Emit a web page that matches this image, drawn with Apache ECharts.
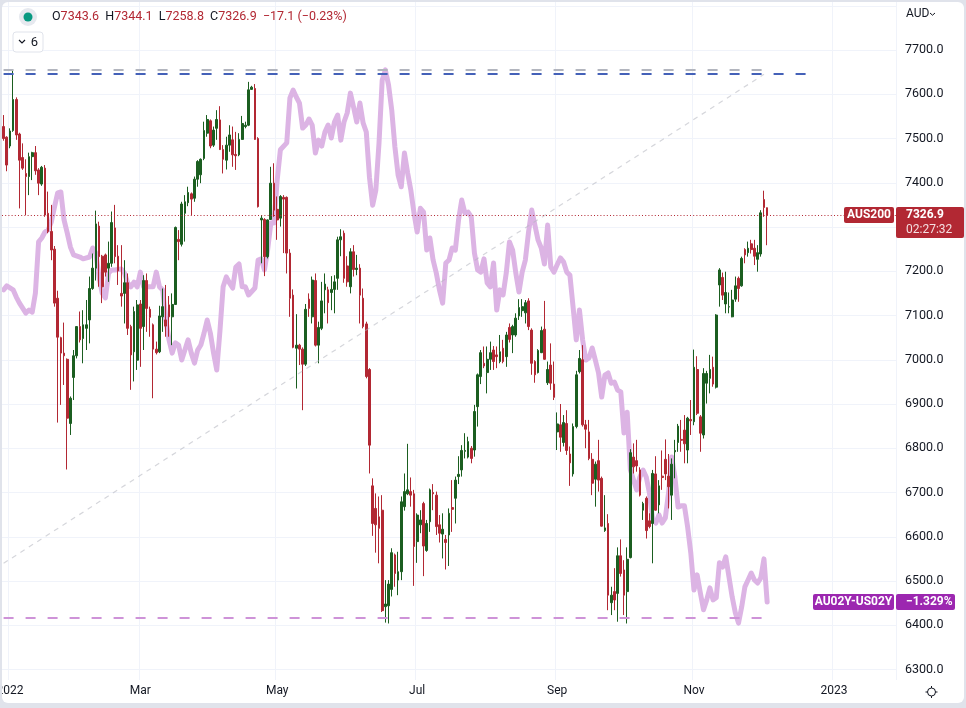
<!DOCTYPE html>
<html><head><meta charset="utf-8">
<script src="https://cdn.jsdelivr.net/npm/echarts/dist/echarts.min.js"></script>
<style>
html,body{margin:0;padding:0;background:#fff;overflow:hidden;width:966px;height:708px;}
#c{position:absolute;left:0;top:0;width:966px;height:708px;}
#frame{position:absolute;left:2px;top:2px;width:962px;height:701px;border-radius:6px;box-shadow:0 0 0 40px #e0e3eb;pointer-events:none;}
</style></head><body>
<div id="c"></div><div id="frame"></div>
<script>
const UP = '#1b5e20', DOWN = '#b22833', PURPLE = '#9c27b0', SPREAD_LINE = '#dcb4e4';
const FONT = 'Roboto, "Liberation Sans", sans-serif';
const TEXT = '#131722';

// x axis: trading days (weekdays) starting here
const startDay = [2021, 11, 30];
const closedDays = ['2022-04-15'];
const slotCount = 281;
const tickMonths = ['2022-01', '2022-03', '2022-05', '2022-07', '2022-09', '2022-11', '2023-01'];
const tickLabels = ['2022', 'Mar', 'May', 'Jul', 'Sep', 'Nov', '2023'];

const symbolName = 'AUS200';
const spreadName = 'AU02Y-US02Y';
const timerText = '02:27:32';

// AUS200 daily candles: [open, close, low, high]
const candles = [
[7527,7500,7495,7553],[7503,7440,7426,7505],[7483,7517,7478,7523],[7518,7588,7515,7655],[7588,7508,7497,7593],
[7510,7451,7342,7513],[7457,7433,7429,7489],[7421,7414,7327,7453],[7414,7459,7372,7468],[7459,7468,7406,7470],
[7468,7427,7418,7483],[7429,7399,7372,7433],[7397,7435,7393,7438],[7433,7327,7323,7440],[7331,7290,7286,7380],
[7290,7248,7225,7350],[7250,7128,7120,7257],[7139,7051,6858,7156],[7050,7015,6898,7052],[7015,7009,6943,7084],
[7001,6868,6752,7003],[6856,6913,6830,6917],[6960,7009,6909,7022],[7009,7075,7003,7076],[7075,7045,7039,7109],
[7048,7079,6992,7112],[7071,7079,7022,7135],[7090,7161,7037,7188],[7161,7207,7158,7240],[7207,7307,7179,7337],
[7302,7233,7165,7312],[7234,7165,7128,7237],[7237,7198,7188,7240],[7207,7218,7176,7267],[7218,7310,7210,7335],
[7298,7233,7218,7350],[7234,7201,7169,7259],[7150,7144,7120,7259],[7150,7174,7082,7225],[7174,7071,7056,7195],
[7075,7011,6932,7079],[7018,7109,6951,7120],[6999,7124,6977,7135],[7126,7071,6984,7135],[7075,7179,7022,7191],
[7179,7116,7063,7195],[7114,7096,7052,7120],[7079,7024,6913,7082],[7024,7016,7012,7041],[7018,7099,7015,7122],
[7097,7120,7063,7161],[7090,7076,7052,7169],[7124,7097,7052,7144],[7097,7125,7033,7150],[7125,7299,7124,7301],
[7272,7267,7225,7293],[7261,7352,7256,7357],[7331,7357,7267,7372],[7355,7378,7347,7391],[7375,7363,7327,7378],
[7365,7408,7357,7414],[7408,7448,7391,7451],[7418,7453,7399,7455],[7455,7518,7451,7538],[7512,7543,7504,7553],
[7540,7483,7478,7543],[7485,7519,7481,7527],[7523,7543,7497,7564],[7542,7475,7474,7573],[7475,7453,7421,7485],
[7451,7485,7430,7504],[7485,7508,7470,7530],[7497,7463,7436,7527],[7464,7461,7429,7515],[7463,7498,7460,7512],
[7498,7534,7497,7551],[7527,7530,7523,7538],[7530,7610,7528,7628],[7611,7616,7610,7619],[7613,7498,7497,7623],
[7500,7346,7344,7503],[7316,7320,7218,7327],[7317,7233,7189,7320],[7233,7316,7229,7317],[7317,7399,7316,7436],
[7399,7338,7323,7444],[7340,7316,7271,7369],[7320,7369,7301,7372],[7367,7363,7241,7372],[7367,7241,7195,7369],
[7241,7139,7097,7250],[7146,7028,7026,7159],[7026,7033,6935,7103],[7033,7024,6988,7036],[7024,6990,6886,7028],
[6990,7114,6986,7126],[7137,7116,7097,7150],[7097,7180,7082,7188],[7179,7033,7030,7195],[7033,7073,6992,7086],
[7071,7133,7067,7176],[7158,7171,7105,7195],[7158,7129,7082,7165],[7152,7159,7112,7189],[7159,7176,7105,7191],
[7184,7271,7158,7278],[7271,7278,7234,7295],[7286,7184,7174,7292],[7212,7176,7165,7234],[7165,7244,7150,7252],
[7244,7204,7188,7259],[7204,7207,7191,7237],[7207,7146,7082,7216],[7139,7075,7071,7161],[7081,6962,6958,7086],
[6978,6807,6743,6981],[6715,6630,6602,6732],[6664,6627,6564,6698],[6645,6619,6540,6691],[6660,6433,6430,6694],
[6442,6448,6406,6502],[6444,6493,6404,6502],[6481,6564,6465,6574],[6559,6517,6487,6562],[6502,6521,6468,6566],
[6521,6679,6502,6691],[6668,6702,6659,6743],[6697,6706,6694,6810],[6702,6694,6668,6734],[6697,6578,6489,6706],
[6589,6649,6541,6653],[6627,6638,6608,6660],[6675,6579,6511,6679],[6569,6630,6566,6638],[6634,6706,6611,6709],
[6700,6697,6660,6719],[6694,6623,6604,6702],[6627,6608,6587,6649],[6606,6617,6551,6653],[6594,6587,6526,6604],
[6604,6653,6534,6664],[6666,6662,6611,6728],[6687,6728,6630,6736],[6736,6741,6719,6782],[6751,6795,6736,6807],
[6793,6795,6777,6834],[6780,6815,6777,6826],[6800,6777,6766,6805],[6796,6883,6781,6898],[6894,6966,6849,6969],
[6962,7016,6945,7022],[6992,6986,6981,7030],[6971,7001,6924,7030],[7001,7016,6977,7041],[7022,6996,6977,7031],
[7011,7007,6981,7030],[6996,7018,6992,7056],[7026,6996,6992,7045],[7007,7056,6984,7063],[7073,7046,7039,7082],
[7056,7075,7015,7079],[7056,7094,7052,7105],[7099,7118,7090,7137],[7111,7120,7097,7137],[7106,7129,7082,7135],
[7133,7075,7067,7139],[7067,6992,6966,7071],[6996,6966,6948,6999],[6971,7021,6969,7024],[7016,7066,7015,7075],
[7069,7001,7000,7133],[6948,6978,6943,6996],[6988,6947,6932,7037],[6945,6915,6909,6996],[6837,6855,6796,6881],
[6853,6825,6792,6900],[6813,6858,6804,6875],[6856,6795,6785,6886],[6787,6767,6715,6804],[6742,6849,6736,6856],
[6849,6966,6845,6975],[6973,7003,6969,7022],[7000,6853,6849,7033],[6853,6843,6800,6864],[6837,6777,6773,6864],
[6775,6721,6694,6789],[6730,6764,6668,6770],[6772,6728,6702,6819],[6732,6624,6623,6736],[6614,6620,6611,6694],
[6630,6468,6434,6651],[6451,6468,6423,6487],[6476,6457,6434,6529],[6472,6557,6408,6576],[6557,6517,6510,6594],
[6525,6468,6423,6547],[6476,6549,6404,6576],[6553,6790,6551,6798],[6780,6758,6743,6811],[6772,6760,6747,6819],
[6751,6694,6691,6757],[6660,6675,6638,6679],[6687,6614,6596,6691],[6636,6623,6619,6653],[6630,6743,6540,6751],
[6742,6660,6659,6782],[6672,6715,6653,6728],[6737,6734,6706,6795],[6775,6742,6728,6820],[6737,6713,6664,6787],
[6694,6764,6638,6777],[6792,6795,6732,6819],[6813,6850,6792,6855],[6820,6818,6792,6864],[6841,6810,6766,6875],
[6796,6868,6766,6871],[6865,6862,6830,6909],[6860,6983,6852,7023],[6978,6879,6875,7008],[6871,6834,6792,6875],
[6830,6969,6822,6981],[6947,6969,6901,6975],[6958,6978,6924,7011],[6983,6945,6939,7007],[6938,7101,6935,7103],
[7169,7203,7120,7207],[7186,7146,7135,7197],[7126,7152,7105,7199],[7119,7120,7105,7152],[7097,7135,7096,7158],
[7137,7167,7131,7188],[7184,7161,7131,7188],[7167,7229,7165,7233],[7249,7237,7218,7252],[7242,7252,7233,7267],
[7262,7249,7240,7271],[7252,7234,7214,7271],[7227,7242,7199,7259],[7239,7332,7233,7338],[7362,7344,7323,7382],
[7343.6,7326.9,7258.8,7344.1]
];

// AU02Y-US02Y spread (%): [trading-day index, value]
const spread = [
[0,-0.293],[1,-0.280],[3,-0.293],[4,-0.317],[5,-0.337],[7,-0.370],[8,-0.360],[9,-0.367],[10,-0.304],[11,-0.134],
[12,-0.121],[13,-0.101],[14,-0.094],[15,-0.068],[16,-0.018],[17,0.029],[18,0.032],[19,-0.061],[20,-0.104],[21,-0.151],
[22,-0.177],[24,-0.184],[25,-0.190],[27,-0.184],[28,-0.154],[29,-0.171],[30,-0.250],[31,-0.304],[32,-0.320],[33,-0.237],
[34,-0.227],[35,-0.227],[37,-0.224],[38,-0.237],[39,-0.270],[40,-0.283],[41,-0.267],[42,-0.283],[43,-0.234],[44,-0.283],
[45,-0.283],[47,-0.283],[48,-0.234],[49,-0.283],[50,-0.293],[51,-0.393],[52,-0.459],[53,-0.503],[54,-0.469],[55,-0.476],
[56,-0.526],[58,-0.459],[59,-0.503],[60,-0.536],[61,-0.493],[62,-0.476],[63,-0.437],[64,-0.393],[65,-0.437],[66,-0.503],
[67,-0.559],[68,-0.430],[69,-0.283],[70,-0.250],[71,-0.270],[72,-0.287],[73,-0.217],[74,-0.207],[75,-0.283],[76,-0.283],
[77,-0.310],[79,-0.287],[80,-0.194],[81,-0.190],[82,-0.227],[83,-0.160],[84,-0.071],[85,-0.071],[86,0.072],[87,0.172],
[89,0.195],[90,0.344],[91,0.370],[92,0.347],[93,0.327],[94,0.244],[95,0.254],[96,0.274],[97,0.254],[98,0.161],
[99,0.204],[100,0.184],[101,0.231],[102,0.254],[103,0.211],[104,0.264],[105,0.287],[106,0.204],[107,0.264],[108,0.294],
[109,0.360],[110,0.314],[111,0.264],[112,0.327],[113,0.261],[114,0.231],[115,0.081],[116,-0.012],[117,0.038],[118,0.194],
[119,0.403],[120,0.437],[121,0.387],[122,0.304],[123,0.181],[124,0.088],[125,0.049],[126,0.161],[127,0.095],[128,0.038],
[129,-0.038],[130,-0.101],[131,-0.022],[132,-0.035],[133,-0.161],[134,-0.121],[135,-0.194],[136,-0.237],[137,-0.293],[138,-0.337],
[139,-0.204],[140,-0.194],[141,-0.154],[142,-0.161],[143,-0.061],[144,0.005],[145,-0.038],[146,-0.035],[147,-0.051],[148,-0.171],
[149,-0.227],[150,-0.234],[151,-0.190],[152,-0.270],[153,-0.283],[154,-0.204],[155,-0.360],[156,-0.293],[157,-0.310],[158,-0.237],
[159,-0.134],[160,-0.161],[161,-0.237],[162,-0.300],[163,-0.234],[164,-0.194],[165,-0.101],[166,-0.028],[168,-0.128],[169,-0.154],
[170,-0.207],[171,-0.078],[172,-0.217],[173,-0.234],[174,-0.210],[175,-0.187],[176,-0.200],[177,-0.234],[178,-0.244],[179,-0.350],
[180,-0.459],[181,-0.360],[182,-0.459],[183,-0.526],[184,-0.519],[185,-0.486],[186,-0.526],[187,-0.569],[188,-0.649],[189,-0.576],
[190,-0.569],[191,-0.603],[192,-0.599],[193,-0.626],[194,-0.632],[195,-0.768],[196,-0.699],[197,-0.890],[198,-0.924],[199,-0.957],
[200,-0.914],[201,-0.891],[202,-0.914],[203,-0.967],[204,-1.057],[205,-1.067],[206,-1.040],[207,-1.067],[208,-1.050],[209,-0.967],
[210,-0.848],[211,-0.914],[212,-1.014],[213,-1.010],[214,-1.010],[215,-1.080],[216,-1.166],[217,-1.289],[218,-1.239],[219,-1.299],
[220,-1.355],[221,-1.322],[222,-1.282],[223,-1.322],[224,-1.315],[225,-1.199],[226,-1.213],[227,-1.179],[228,-1.246],[229,-1.312],
[230,-1.365],[231,-1.399],[232,-1.345],[233,-1.279],[234,-1.256],[235,-1.233],[236,-1.256],[237,-1.266],[238,-1.249],[239,-1.186],
[240,-1.329]
];

// drawn horizontal levels and trend line: [startIndex, endIndex, price]
const grayLevel = [0, 239, 7655];
const blueLevel = [0, 253, 7646];
const lowLevel = [0, 239, 6416];
const trendLine = [[0, 6540], [239, 7645]];

// ---- build trading-day categories ----
function buildDays() {
  const out = [];
  const d = new Date(Date.UTC(startDay[0], startDay[1], startDay[2]));
  while (out.length < slotCount) {
    const wd = d.getUTCDay();
    const s = d.toISOString().slice(0, 10);
    if (wd !== 0 && wd !== 6 && closedDays.indexOf(s) < 0) out.push(s);
    d.setUTCDate(d.getUTCDate() + 1);
  }
  return out;
}
const days = buildDays();
const tickAt = {};
tickMonths.forEach((m, k) => {
  const idx = days.findIndex(s => s.slice(0, 7) === m);
  if (idx >= 0) tickAt[idx] = tickLabels[k];
});
const isTick = (idx) => tickAt[idx] !== undefined;

const last = candles[candles.length - 1];
const prevClose = candles[candles.length - 2][1];
const chg = last[1] - prevClose;
const pct = chg / prevClose * 100;
const mm = (v, d) => (v < 0 ? '\u2212' : '') + Math.abs(v).toFixed(d);
const lastSpread = spread[spread.length - 1][1];

const chart = echarts.init(document.getElementById('c'), null, {renderer: 'canvas'});

const lvl = (l, color, width, dash) => [
  {coord: [l[0], l[2]], lineStyle: {color: color, width: width, type: dash}},
  {coord: [l[1], l[2]]}
];

chart.setOption({
  animation: false,
  backgroundColor: '#ffffff',
  grid: [
    {left: 2, right: 70, top: 5.75, height: 708, containLabel: false, outerBoundsMode: 'none'},
    {left: 2, right: 70, top: 0, height: 680, containLabel: false, outerBoundsMode: 'none'}
  ],
  xAxis: [
    {type: 'category', gridIndex: 0, data: days, boundaryGap: true, show: false},
    {type: 'category', gridIndex: 1, data: days, boundaryGap: true,
     axisLine: {show: false}, axisTick: {show: false},
     axisLabel: {interval: (i) => isTick(i), formatter: (v, i) => tickAt[i] || '',
                 color: TEXT, fontSize: 12, fontFamily: FONT, margin: 5, hideOverlap: false},
     splitLine: {show: true, interval: (i) => isTick(i), lineStyle: {color: '#f0f3fa', width: 1}}}
  ],
  yAxis: [
    {type: 'value', gridIndex: 0, position: 'right', min: 6200, max: 7800, interval: 100,
     axisLine: {show: false}, axisTick: {show: false},
     splitLine: {lineStyle: {color: '#f0f3fa', width: 1}},
     axisLabel: {margin: 9, color: TEXT, fontSize: 12.5, fontFamily: FONT,
                 formatter: (v) => (v <= 6200 || v >= 7800) ? '' : v.toFixed(1)}},
    {type: 'value', gridIndex: 0, min: -1.7, max: 0.65, show: false},
    {type: 'value', gridIndex: 1, show: false}
  ],
  series: [
    {type: 'line', name: spreadName, xAxisIndex: 0, yAxisIndex: 1, data: spread,
     showSymbol: false, symbol: 'none', connectNulls: true, z: 2,
     lineStyle: {color: SPREAD_LINE, width: 5, cap: 'round', join: 'round'}},
    {type: 'candlestick', name: symbolName, xAxisIndex: 0, yAxisIndex: 0, data: candles,
     barWidth: 2.2, z: 3,
     itemStyle: {color: UP, color0: DOWN, borderColor: UP, borderColor0: DOWN, borderWidth: 1},
     markLine: {silent: true, symbol: ['none', 'none'], animation: false, label: {show: false},
       data: [
         lvl(grayLevel, '#b2b5be', 2, [10, 12]),
         lvl(blueLevel, '#4461b8', 2, [10, 12]),
         lvl(lowLevel, '#ce93d8', 2, [10, 12]),
         [{coord: trendLine[0], lineStyle: {color: 'rgba(178,181,190,0.55)', width: 1.2, type: [5, 5]}},
          {coord: trendLine[1]}],
         {yAxis: last[1], lineStyle: {color: DOWN, width: 1, type: [1, 2.2]}}
       ]}}
  ]
});

const yP = chart.convertToPixel({yAxisIndex: 0}, last[1]);
const yS = chart.convertToPixel({yAxisIndex: 1}, lastSpread);
const boldW = {fill: '#fff', font: 'bold 12px ' + FONT};

const g = [
  {type: 'circle', shape: {cx: 28, cy: 17, r: 9}, style: {fill: '#e6e9ef'}, z: 100},
  {type: 'circle', shape: {cx: 28, cy: 17, r: 4.5}, style: {fill: '#089981'}, z: 101},
  {type: 'text', x: 52, y: 17, z: 101, style: {
    text: '{k|O}{v|' + last[0].toFixed(1) + '}  {k|H}{v|' + last[3].toFixed(1) + '}  {k|L}{v|' + last[2].toFixed(1) +
          '}  {k|C}{v|' + last[1].toFixed(1) + '}  {v|' + mm(chg, 1) + ' (' + mm(pct, 2) + '%)}',
    verticalAlign: 'middle', font: '12.5px ' + FONT,
    rich: {k: {fill: TEXT, font: '12.5px ' + FONT}, v: {fill: DOWN, font: '12.5px ' + FONT}}}},
  {type: 'rect', shape: {x: 13, y: 32, width: 30, height: 20, r: 3}, style: {fill: '#fff', stroke: '#e0e3eb', lineWidth: 1}, z: 100},
  {type: 'polyline', shape: {points: [[19, 40], [22, 43], [25, 40]]}, style: {stroke: TEXT, lineWidth: 1.2, fill: null}, z: 101},
  {type: 'text', x: 34.5, y: 42.5, z: 101, style: {text: '6', fill: TEXT, font: '13px ' + FONT, align: 'center', verticalAlign: 'middle'}},
  {type: 'text', x: 906, y: 14, z: 101, style: {text: 'AUD', fill: TEXT, font: '12px ' + FONT, verticalAlign: 'middle'}},
  {type: 'polyline', shape: {points: [[930, 13], [932.5, 15.2], [935, 13]]}, style: {stroke: TEXT, lineWidth: 1, fill: null}, z: 101},
  {type: 'circle', shape: {cx: 931.5, cy: 692, r: 4}, style: {fill: 'none', stroke: TEXT, lineWidth: 1}, z: 101},
  {type: 'polyline', shape: {points: [[931.5, 686], [931.5, 688]]}, style: {stroke: TEXT, lineWidth: 1}, z: 101},
  {type: 'polyline', shape: {points: [[931.5, 696], [931.5, 698]]}, style: {stroke: TEXT, lineWidth: 1}, z: 101},
  {type: 'polyline', shape: {points: [[925.5, 692], [927.5, 692]]}, style: {stroke: TEXT, lineWidth: 1}, z: 101},
  {type: 'polyline', shape: {points: [[935.5, 692], [937.5, 692]]}, style: {stroke: TEXT, lineWidth: 1}, z: 101},
  // price labels
  {type: 'rect', shape: {x: 844, y: yP - 8, width: 50, height: 16, r: 2}, style: {fill: DOWN}, z: 102},
  {type: 'text', x: 869, y: yP, z: 103, style: Object.assign({text: symbolName, align: 'center', verticalAlign: 'middle'}, boldW)},
  {type: 'rect', shape: {x: 896, y: yP - 8, width: 68, height: 31, r: 2}, style: {fill: DOWN}, z: 102},
  {type: 'text', x: 906, y: yP, z: 103, style: Object.assign({text: last[1].toFixed(1), verticalAlign: 'middle'}, boldW)},
  {type: 'text', x: 906, y: yP + 14.5, z: 103, style: {text: timerText, fill: 'rgba(255,255,255,0.85)', font: '12px ' + FONT, verticalAlign: 'middle'}},
  {type: 'rect', shape: {x: 813, y: yS - 8, width: 81, height: 16, r: 2}, style: {fill: PURPLE}, z: 102},
  {type: 'text', x: 853.5, y: yS, z: 103, style: Object.assign({text: spreadName, align: 'center', verticalAlign: 'middle'}, boldW)},
  {type: 'rect', shape: {x: 896, y: yS - 8, width: 59, height: 16, r: 2}, style: {fill: PURPLE}, z: 102},
  {type: 'text', x: 906, y: yS, z: 103, style: Object.assign({text: mm(lastSpread, 3) + '%', verticalAlign: 'middle'}, boldW)}
];
chart.setOption({graphic: g});
</script></body></html>
